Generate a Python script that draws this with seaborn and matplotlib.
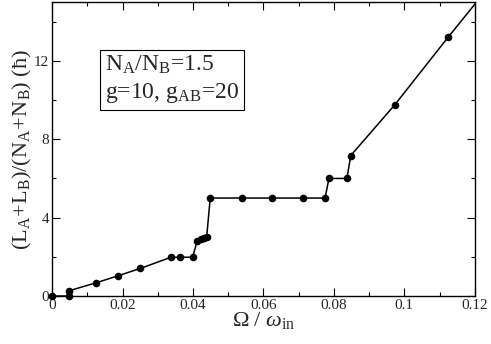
import matplotlib
matplotlib.use("Agg")
import matplotlib.pyplot as plt
import seaborn as sns
import pandas as pd
from matplotlib.ticker import MultipleLocator

omega = [0, 0.0049, 0.0049, 0.0126, 0.0187, 0.0251, 0.0338, 0.0363, 0.0399,
         0.0412, 0.0424, 0.0431, 0.0439, 0.0449, 0.0539, 0.0624, 0.0712,
         0.0775, 0.0786, 0.0837, 0.0848, 0.0973, 0.1124, 0.1250]
L_tot = [0, 0, 0.27, 0.68, 1.03, 1.41, 1.98, 1.98, 1.98, 2.81, 2.91, 2.96,
         3.03, 5.0, 5.0, 5.0, 5.0, 5.0, 6.0, 6.0, 7.17, 9.76, 13.2, 16.0]

df = pd.DataFrame({"omega": omega, "L": L_tot})
shown = df[df["omega"] <= 0.12]

sns.set_style("ticks")
plt.rcParams['font.family'] = ['Liberation Serif', 'DejaVu Serif']
plt.rcParams['mathtext.fontset'] = 'custom'
plt.rcParams['mathtext.rm'] = 'Liberation Serif'
plt.rcParams['mathtext.it'] = 'Liberation Serif:italic'
plt.rcParams['mathtext.bf'] = 'Liberation Serif:bold'

fig = plt.figure(figsize=(4.91, 3.44), dpi=100)
ax = fig.add_axes([0.106, 0.1395, 0.861, 0.8545])

# line (clipped at the frame) and dots (not clipped, so the ones on y=0 show whole)
sns.lineplot(data=df, x="omega", y="L", ax=ax, estimator=None, sort=False,
             color="black", linewidth=1.1)
sns.scatterplot(data=shown, x="omega", y="L", ax=ax, color="black", s=30,
                edgecolor="black", linewidth=0, clip_on=False, zorder=3)

ax.set_xlim(0, 0.12)
ax.set_ylim(0, 15)
ax.xaxis.set_major_locator(MultipleLocator(0.02))
ax.xaxis.set_minor_locator(MultipleLocator(0.01))
ax.yaxis.set_major_locator(MultipleLocator(4))
ax.yaxis.set_minor_locator(MultipleLocator(2))
ax.set_xticks([0, 0.02, 0.04, 0.06, 0.08, 0.1, 0.12])
ax.set_xticklabels(["0", "0.02", "0.04", "0.06", "0.08", "0.1", "0.12"])
ax.tick_params(which="both", direction="in", top=True, right=True,
               labelsize=11, width=0.8, color="black", pad=2)
ax.tick_params(which="major", length=6)
ax.tick_params(which="minor", length=3)
for s in ax.spines.values():
    s.set_linewidth(1.0)
    s.set_color("black")

ax.set_xlabel(r"$\Omega\ /\ \omega_{\mathrm{in}}$", fontsize=16, labelpad=-1)
ax.set_ylabel(r"$\mathrm{(L_A\!+\!L_B)/(N_A\!+\!N_B)}$ (ħ)", fontsize=16, labelpad=0)

ax.text(0.0150, 11.05,
        r"N$_\mathrm{A}$/N$_\mathrm{B}$=1.5" + "\n" + r"g=10, g$_\mathrm{AB}$=20",
        fontsize=17, va="center", ha="left", linespacing=1.3,
        bbox=dict(boxstyle="square,pad=0.22", facecolor="white",
                  edgecolor="black", linewidth=0.8))

fig.savefig("out.png", dpi=100)
